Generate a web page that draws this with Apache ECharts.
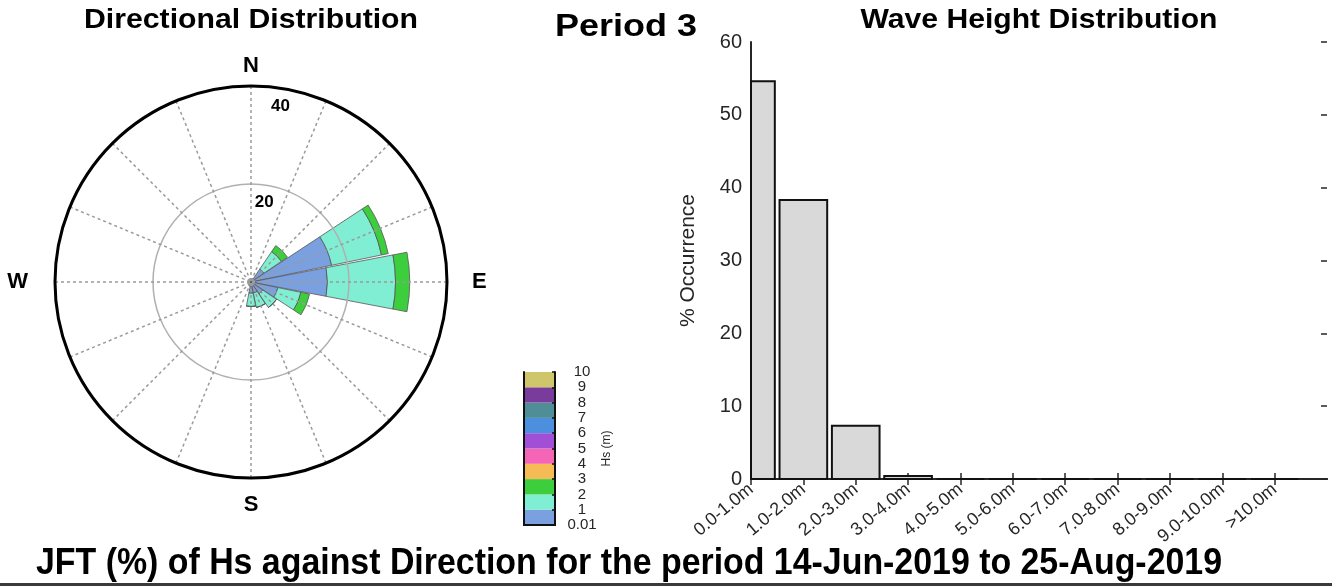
<!DOCTYPE html>
<html><head><meta charset="utf-8">
<script src="https://cdn.jsdelivr.net/npm/echarts@6/dist/echarts.min.js"></script>
<style>html,body{margin:0;padding:0;background:#fff}#c{width:1332px;height:586px}</style>
</head><body><div id="c"></div>
<script>
// ---------- data ----------
const directions = ['N','NNE','NE','ENE','E','ESE','SE','SSE','S','SSW','SW','WSW','W','WNW','NW','NNW'];
const hsBinNames = ['0.01-1 m','1-2 m','2-3 m'];
const rose_0_1 = [0.6,0.7,3.2,16.8,15.6,5.6,2.9,2.3,2.3,0.8,0.6,0.5,0.5,0.5,0.5,0.5];
const rose_1_2 = [0,0,4.3,10.4,13.9,4.8,3.4,3.0,2.7,0,0,0,0,0,0,0];
const rose_2_3 = [0,0,1.5,1.4,2.9,1.8,0,0,0,0,0,0,0,0,0,0];
const roseRingLabels = [20,40];
const compassLabels = {0:'N',90:'E',180:'S',270:'W'};
const colorbarTicks = ['0.01','1','2','3','4','5','6','7','8','9','10'];
const colorbarColors = ['#7ba0df','#80eed2','#3dce3d','#f6bb55','#f465b5','#a04fd6','#4c8fdf','#4f8e96','#7a3c9c','#cfc66c'];
const heightCategories = ['0.0-1.0m','1.0-2.0m','2.0-3.0m','3.0-4.0m','4.0-5.0m','5.0-6.0m','6.0-7.0m','7.0-8.0m','8.0-9.0m','9.0-10.0m','>10.0m'];
const occurrence = [54.6,38.3,7.3,0.4,0,0,0,0,0,0,0];
const titleTexts = ['Directional Distribution','Period 3','Wave Height Distribution','JFT (%) of Hs against Direction for the period 14-Jun-2019 to 25-Aug-2019'];

const FONT = '"Liberation Sans", Arial, Helvetica, sans-serif';
const AX = '#262626';
const chart = echarts.init(document.getElementById('c'));
const catPositions = heightCategories.map((c, i) => i + 1);

const roseSeries = [rose_0_1, rose_1_2, rose_2_3].map((d, i) => ({
  type: 'bar', name: hsBinNames[i], coordinateSystem: 'polar', polarIndex: 1,
  stack: 'rose', data: d, barCategoryGap: '4%', z: 2,
  itemStyle: { color: colorbarColors[i], borderColor: '#555', borderWidth: 0.8 }
}));

const cbSeries = colorbarColors.map((c, i) => ({
  type: 'bar', xAxisIndex: 2, yAxisIndex: 2, stack: 'cb', data: [1], barWidth: '100%',
  itemStyle: { color: c }, z: 2
}));

function renderHistBar(params, api) {
  const x = api.value(0), y = api.value(1);
  const p0 = api.coord([x - 0.455, y]);
  const p1 = api.coord([x + 0.455, 0]);
  const rect = echarts.graphic.clipRectByRect(
    { x: p0[0], y: p0[1], width: p1[0] - p0[0], height: p1[1] - p0[1] },
    { x: params.coordSys.x, y: params.coordSys.y, width: params.coordSys.width, height: params.coordSys.height });
  if (!rect) return;
  return { type: 'rect', shape: rect, style: { fill: '#d9d9d9', stroke: '#111', lineWidth: 2 } };
}

chart.setOption({
  animation: false,
  textStyle: { fontFamily: FONT },
  polar: [
    { center: [251, 282], radius: 196 },
    { center: [251, 282], radius: 196 }
  ],
  angleAxis: [
    { polarIndex: 0, type: 'value', min: 0, max: 360, interval: 22.5, startAngle: 90, clockwise: true, z: 6,
      axisLine: { lineStyle: { color: '#000', width: 3 } },
      axisTick: { show: false },
      splitLine: { show: true, lineStyle: { color: '#9a9a9a', type: [3, 3], width: 1.5 } },
      axisLabel: { margin: 9, color: '#000', fontSize: 22, fontWeight: 'bold',
        formatter: v => { const s = compassLabels[v]; if (!s) return ''; return '{' + s.toLowerCase() + '|' + s + '}'; },
        rich: { n: {fontSize:22,fontWeight:'bold',padding:[0,0,0,0]}, s: {fontSize:22,fontWeight:'bold',padding:[7,0,0,0]},
                e: {fontSize:22,fontWeight:'bold',padding:[0,0,0,16]}, w: {fontSize:22,fontWeight:'bold',padding:[0,18,0,0]} } }
    },
    { polarIndex: 1, type: 'category', data: directions, startAngle: 101.25, clockwise: true, show: false }
  ],
  radiusAxis: [
    { polarIndex: 0, min: 0, max: 40, interval: 20, z: 5,
      axisLine: { show: false }, axisTick: { show: false }, axisLabel: { show: false },
      splitLine: { show: true, lineStyle: { color: '#b0b0b0', width: 1.5 } } },
    { polarIndex: 1, min: 0, max: 40, show: false }
  ],
  grid: [
    { left: 751, top: 42, width: 576, height: 437 },
    { left: 524, top: 372, width: 31, height: 153 }
  ],
  xAxis: [
    { gridIndex: 0, type: 'value', min: 1, max: 12, interval: 1, position: 'bottom',
      axisLine: { lineStyle: { color: AX, width: 2 } },
      axisTick: { inside: true, length: 6, customValues: catPositions, lineStyle: { color: AX, width: 1.5 } },
      splitLine: { show: false },
      axisLabel: { rotate: 40, margin: 8, fontSize: 18, color: AX, customValues: catPositions,
        formatter: v => heightCategories[v - 1] || '' } },
    { gridIndex: 0, type: 'value', min: 1, max: 12, interval: 1, position: 'top',
      axisLine: { lineStyle: { color: AX, width: 2 } },
      axisTick: { inside: true, length: 6, customValues: catPositions, lineStyle: { color: AX, width: 1.5 } },
      splitLine: { show: false }, axisLabel: { show: false } },
    { gridIndex: 1, type: 'category', data: ['Hs'], position: 'bottom', z: 10,
      axisLine: { lineStyle: { color: '#111', width: 2 } }, axisTick: { show: false }, axisLabel: { show: false } },
    { gridIndex: 1, type: 'category', data: ['Hs'], position: 'top', z: 10,
      axisLine: { lineStyle: { color: '#111', width: 2 } }, axisTick: { show: false }, axisLabel: { show: false } }
  ],
  yAxis: [
    { gridIndex: 0, type: 'value', min: 0, max: 60, interval: 10, position: 'left',
      axisLine: { show: true, lineStyle: { color: AX, width: 2 } },
      axisTick: { show: false },
      splitLine: { show: false },
      axisLabel: { fontSize: 20, color: AX, margin: 9 },
      name: '% Occurrence', nameLocation: 'middle', nameGap: 52, nameRotate: 90,
      nameTextStyle: { fontSize: 21, color: AX } },
    { gridIndex: 0, type: 'value', min: 0, max: 60, interval: 10, position: 'right',
      axisLine: { show: false },
      axisTick: { show: true, inside: true, length: 6, lineStyle: { color: AX, width: 1.5 } },
      splitLine: { show: false }, axisLabel: { show: false } },
    { gridIndex: 1, type: 'value', min: 0, max: 10, interval: 1, position: 'right', z: 10,
      axisLine: { show: true, lineStyle: { color: '#111', width: 2 } },
      axisTick: { show: true, inside: true, length: 3, lineStyle: { color: '#111', width: 1.5 } },
      splitLine: { show: false },
      axisLabel: { fontSize: 15, color: AX, align: 'center', margin: 27, lineHeight: 14,
        formatter: v => colorbarTicks[v] },
      name: 'Hs (m)', nameLocation: 'middle', nameGap: 44, nameRotate: 90,
      nameTextStyle: { fontSize: 12, color: AX } },
    { gridIndex: 1, type: 'value', min: 0, max: 10, position: 'left', z: 10,
      axisLine: { show: true, lineStyle: { color: '#111', width: 2 } },
      axisTick: { show: false }, splitLine: { show: false }, axisLabel: { show: false } }
  ],
  series: [
    ...roseSeries,
    { type: 'custom', name: 'Occurrence', xAxisIndex: 0, yAxisIndex: 0, z: 3,
      data: occurrence.map((v, i) => [i + 1, v]),
      encode: { x: 0, y: 1 },
      renderItem: renderHistBar },
    ...cbSeries
  ]
});

// ---------- texts (titles / ring labels) ----------
const ctx = document.createElement('canvas').getContext('2d');
function scaledText(text, cx, cy, size, targetW, weight) {
  const font = (weight || 'bold') + ' ' + size + 'px ' + FONT;
  ctx.font = font;
  const w = ctx.measureText(text).width;
  return { type: 'text', x: cx, y: cy, scaleX: targetW / w, z: 20,
    style: { text: text, x: 0, y: 0, font: font, fill: '#000', textAlign: 'center', textVerticalAlign: 'middle' } };
}
const g = [
  scaledText(titleTexts[0], 251, 20, 28, 334),
  scaledText(titleTexts[1], 626, 27, 31, 142),
  scaledText(titleTexts[2], 1039, 21, 27, 357),
  scaledText(titleTexts[3], 629, 564, 36, 1186),
  { type: 'rect', shape: { x: 0, y: 583, width: 1332, height: 3 }, style: { fill: '#3a3a3a' }, z: 20 }
];
roseRingLabels.forEach(v => {
  const p = chart.convertToPixel({ polarIndex: 0 }, [v - 3.6, 9.5]);
  g.push({ type: 'text', x: p[0], y: p[1], z: 20,
    style: { text: String(v), font: 'bold 17px ' + FONT, fill: '#000', textAlign: 'center', textVerticalAlign: 'middle' } });
});
chart.setOption({ graphic: g });
</script>
</body></html>
